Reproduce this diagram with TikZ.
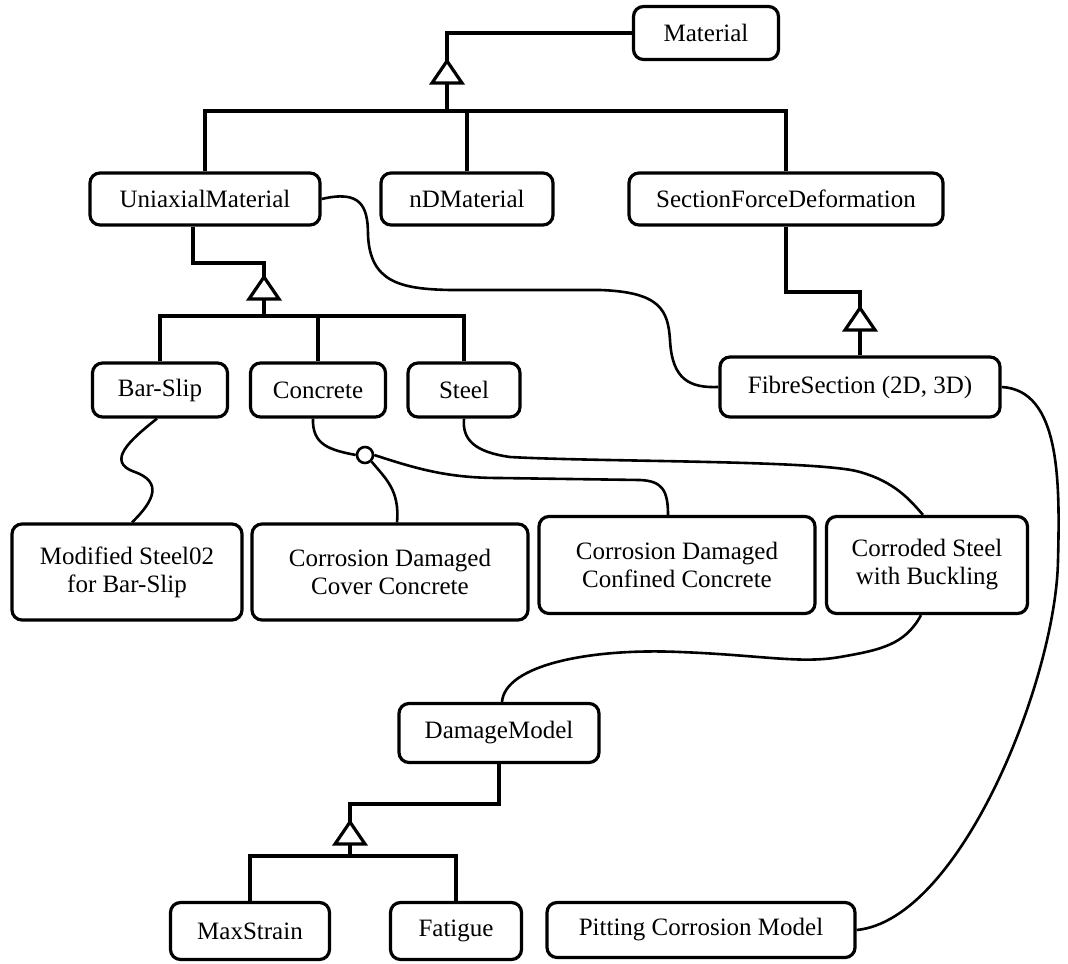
\documentclass[tikz,border=0pt]{standalone}
\usepackage{fontspec}
\setmainfont{Liberation Serif}
\newfontfamily\timesfont{Liberation Serif}
\usetikzlibrary{calc}
\tikzset{
  box/.style={draw,rounded corners=5pt,line width=1.6pt,align=center,inner sep=0pt,
    font=\timesfont\fontsize{12.5}{14}\selectfont},
  tree/.style={line width=2pt},
  link/.style={line width=1.3pt}
}
% open inheritance triangle with its tip at #1
\newcommand{\gentri}[1]{\draw[line width=1.6pt,fill=white] (#1) -- ++(-15,22) -- ++(30,0) -- cycle;}
\begin{document}
\begin{tikzpicture}[x=0.5pt,y=-0.5pt]
   \useasboundingbox (0,0) rectangle (1068,963);
   % classes
   \node[box,minimum width=72.5pt,minimum height=26.5pt] (mat) at (706,33) {Material};
   \node[box,minimum width=115pt,minimum height=26pt] (uni) at (205,199) {UniaxialMaterial};
   \node[box,minimum width=86pt,minimum height=26pt] (nd) at (467,199) {nDMaterial};
   \node[box,minimum width=157pt,minimum height=26pt] (sfd) at (786,199) {SectionForceDeformation};
   \node[box,minimum width=67.5pt,minimum height=27pt] (bs) at (160,390) {Bar-Slip};
   \node[box,minimum width=67.5pt,minimum height=27pt] (con) at (318,390) {Concrete};
   \node[box,minimum width=56pt,minimum height=27pt] (st) at (464,390) {Steel};
   \node[box,minimum width=140pt,minimum height=30pt] (fib) at (860,387) {FibreSection (2D, 3D)};
   \node[box,minimum width=115pt,minimum height=48pt] (mod) at (127,572) {Modified Steel02\\for Bar-Slip};
   \node[box,minimum width=138pt,minimum height=48pt] (cov) at (390,572) {Corrosion Damaged\\Cover Concrete};
   \node[box,minimum width=138pt,minimum height=48.5pt] (conf) at (677,565) {Corrosion Damaged\\Confined Concrete};
   \node[box,minimum width=100.5pt,minimum height=48.5pt] (cor) at (927,565) {Corroded Steel\\with Buckling};
   \node[box,minimum width=100pt,minimum height=29.5pt] (dm) at (499,733) {DamageModel};
   \node[box,minimum width=79.5pt,minimum height=28.5pt] (ms) at (250,931) {MaxStrain};
   \node[box,minimum width=65.5pt,minimum height=28.5pt] (fat) at (456,931) {Fatigue};
   \node[box,minimum width=154pt,minimum height=27.5pt] (pit) at (701,930) {Pitting Corrosion Model};
   % junctions
   \coordinate (t1) at (447,61);  \coordinate (b1) at (447,111);
   \coordinate (t2) at (264,277); \coordinate (b2) at (264,316);
   \coordinate (t3) at (860,308);
   \coordinate (t4) at (350,822); \coordinate (b4) at (350,856);
   % generalisation trees
   \draw[tree] (mat.west) -| (t1);
   \draw[tree] (b1) -- (t1);
   \draw[tree] (uni.north) |- (sfd.north |- b1) -- (sfd.north);
   \draw[tree] (nd.north) -- (nd.north |- b1);
   \draw[tree] ([xshift=-6pt]uni.south) |- (264,263) -- (t2);
   \draw[tree] (b2) -- (t2);
   \draw[tree] (bs.north) |- (st.north |- b2) -- (st.north);
   \draw[tree] (con.north) -- (con.north |- b2);
   \draw[tree] (sfd.south) |- (860,292) -- (t3);
   \draw[tree] (fib.north) -- (t3);
   \draw[tree] (dm.south) |- (350,804) -- (t4);
   \draw[tree] (b4) -- (t4);
   \draw[tree] (ms.north) |- (fat.north |- b4) -- (fat.north);
   \gentri{t1} \gentri{t2} \gentri{t3} \gentri{t4}
   % associations
   \draw[link] (uni.east) .. controls (360,190) and (368,205) .. (368,235)
      .. controls (370,282) and (400,289) .. (450,290) -- (600,290)
      .. controls (660,292) and (668,310) .. (670,340)
      .. controls (672,380) and (690,388) .. (fib.west);
   \draw[link] ([xshift=-1.5pt]bs.south) .. controls (130,440) and (105,462) .. (135,472)
      .. controls (162,482) and (155,500) .. ([xshift=2.5pt]mod.north);
   \node[draw,circle,fill=white,line width=1.3pt,minimum size=8pt,inner sep=0pt] (cir) at (365,455) {};
   \draw[link] ([xshift=-2.5pt]con.south) .. controls (312,445) and (330,450) .. (cir.west);
   \draw[link] (cir.south east) .. controls (385,478) and (400,490) .. ([xshift=3.5pt]cov.north);
   \draw[link] (cir.east) .. controls (420,470) and (450,478) .. (500,478) -- (640,480)
      .. controls (662,481) and (668,490) .. ([xshift=-4.5pt]conf.north);
   \draw[link] (st.south) .. controls (462,440) and (475,452) .. (510,457)
      .. controls (600,462) and (820,460) .. (860,472)
      .. controls (895,482) and (910,500) .. ([xshift=-2pt]cor.north);
   \draw[link] ([xshift=-3pt]cor.south) .. controls (905,645) and (880,650) .. (840,657)
      .. controls (800,664) and (760,655) .. (680,652)
      .. controls (590,648) and (505,665) .. ([xshift=1.5pt]dm.north);
   \draw[link] (fib.east) .. controls (1060,390) and (1060,480) .. (1058,560)
      .. controls (1056,680) and (960,920) .. (pit.east);
\end{tikzpicture}
\end{document}
